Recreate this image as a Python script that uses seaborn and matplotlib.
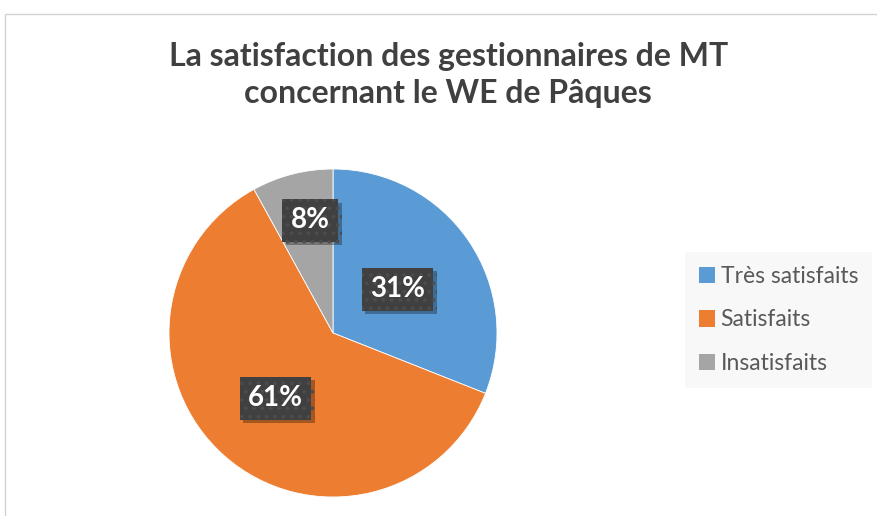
import matplotlib
matplotlib.use('Agg')
import matplotlib.pyplot as plt
import matplotlib.patheffects as pe
from matplotlib.patches import Patch, Rectangle
import numpy as np
import seaborn as sns

# data
title_lines = ["La satisfaction des gestionnaires de MT", "concernant le WE de Pâques"]
categories = ['Très satisfaits', 'Satisfaits', 'Insatisfaits']
values = [31, 61, 8]
colors = ['#5B9BD5', '#ED7D31', '#A5A5A5']

sns.set_theme(style='white')
plt.rcParams['font.family'] = ['Lato', 'DejaVu Sans']
plt.rcParams['hatch.linewidth'] = 1.5

palette = sns.color_palette(colors)

fig = plt.figure(figsize=(8.77, 5.16), dpi=100)
ax = fig.add_axes([169 / 877, 19 / 516, 328 / 877, 328 / 516])

wedges, texts, autotexts = ax.pie(
    values, colors=palette, startangle=90, counterclock=False,
    autopct='%1.0f%%', pctdistance=0.55,
    wedgeprops=dict(linewidth=0.6, edgecolor='white'),
    textprops=dict(color='white', fontsize=20, fontweight='bold'))
ax.set_xlim(-1, 1)
ax.set_ylim(-1, 1)
ax.set_aspect('equal')

# label placement like the Excel chart (distance / angle nudge per slice)
label_dist = [0.475, 0.53, 0.70]
label_turn = [0, 0, -3]
for w, t, d, turn in zip(wedges, autotexts, label_dist, label_turn):
    ang = np.deg2rad((w.theta1 + w.theta2) / 2 + turn)
    t.set_position((d * np.cos(ang), d * np.sin(ang)))
    t.set_bbox(dict(boxstyle='square,pad=0.3', facecolor='#404040',
                    edgecolor='#4c4c4c', hatch='..', linewidth=0))
    t.get_bbox_patch().set_path_effects([
        pe.SimplePatchShadow(offset=(2.5, -2.5), shadow_rgbFace='black', alpha=0.3),
        pe.Normal()])

# legend
handles = [Patch(facecolor=c, edgecolor='none') for c in palette]
leg = fig.legend(handles, categories, loc='center left',
                 bbox_to_anchor=(685 / 877, (516 - 320) / 516),
                 frameon=True, fancybox=False, facecolor='#f7f7f7', edgecolor='none',
                 fontsize=16.5, handlelength=0.7, handleheight=0.7,
                 handletextpad=0.25, labelspacing=1.0, borderpad=0.6,
                 borderaxespad=0)
for txt in leg.get_texts():
    txt.set_color('#595959')

# title (two lines, baselines as in the reference)
for line, base in zip(title_lines, [66, 103]):
    fig.text(0.511, 1 - base / 516, line, ha='center', va='baseline', fontsize=23,
             fontweight='bold', color='#404040')

# chart border (only top and left visible)
fig.add_artist(Rectangle((5 / 877, -0.1), 1.2, 0.1 + (516 - 14) / 516,
                         transform=fig.transFigure, fill=False,
                         edgecolor='#d4d4d4', linewidth=1))

fig.savefig('out.png', dpi=100)
